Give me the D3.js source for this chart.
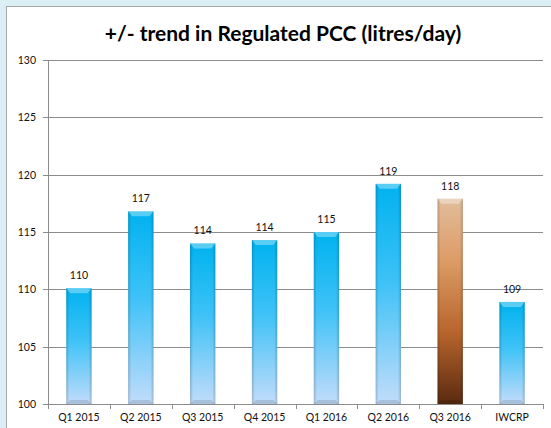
<!DOCTYPE html>
<html>
<head>
<meta charset="utf-8">
<script src="https://cdn.jsdelivr.net/npm/d3@7"></script>
<style>
  body { margin: 0; background: #dbeef4; }
  svg { display: block; }
</style>
</head>
<body>
<svg id="viz"></svg>
<script>
	// the data
	var categories = ["Q1 2015", "Q2 2015", "Q3 2015", "Q4 2015", "Q1 2016", "Q2 2016", "Q3 2016", "IWCRP"];
	var values = [110.1, 116.8, 114.0, 114.3, 115.0, 119.2, 117.9, 108.9];
	var yTicks = [100, 105, 110, 115, 120, 125, 130];
	var highlight = "Q3 2016";

	// set up the svg
	var w = 551;
	var h = 428;
	var viz = d3.select("#viz").attr("width", w).attr("height", h);

	var plotLeft = 48, plotRight = 543, plotTop = 60, plotBottom = 404;
	var font = "Lato, 'Open Sans', sans-serif";

	var x = d3.scaleBand().domain(categories).range([plotLeft, plotRight]).paddingInner(0.59).paddingOuter(0.295);
	var xTick = d3.scaleBand().domain(categories).range([plotLeft, plotRight]);
	var y = d3.scaleLinear().domain([100, 130]).range([plotBottom, plotTop]);

	// gradients
	var defs = viz.append("defs");
	function grad(id, stops) {
		var g = defs.append("linearGradient").attr("id", id)
			.attr("x1", 0).attr("y1", 0).attr("x2", 0).attr("y2", 1);
		stops.forEach(function(s) {
			g.append("stop").attr("offset", s[0]).attr("stop-color", s[1]);
		});
	}
	grad("blue", [[0, "#00b2ef"], [0.45, "#3ec2f7"], [1, "#c2dcfa"]]);
	grad("brown", [[0, "#e2bd9c"], [0.3, "#dc9c66"], [0.65, "#b8652c"], [1, "#5a2a10"]]);
	var side = defs.append("linearGradient").attr("id", "side")
		.attr("x1", 0).attr("y1", 0).attr("x2", 1).attr("y2", 0);
	side.append("stop").attr("offset", 0).attr("stop-color", "#000").attr("stop-opacity", 0.18);
	side.append("stop").attr("offset", 0.12).attr("stop-color", "#000").attr("stop-opacity", 0);
	side.append("stop").attr("offset", 0.88).attr("stop-color", "#000").attr("stop-opacity", 0);
	side.append("stop").attr("offset", 1).attr("stop-color", "#000").attr("stop-opacity", 0.18);

	// white chart panel
	viz.append("rect")
		.attr("x", 6.5).attr("y", 6.5).attr("width", w).attr("height", h)
		.attr("fill", "#fff").attr("stroke", "#a6a6a6");

	// title
	viz.append("text")
		.attr("x", 283).attr("y", 41)
		.attr("text-anchor", "middle")
		.attr("font-family", font)
		.attr("font-weight", "bold")
		.attr("font-size", 21)
		.attr("fill", "#000")
		.text("+/- trend in Regulated PCC (litres/day)");

	// gridlines
	viz.selectAll("line.grid")
		.data(yTicks)
		.enter()
		.append("line")
		.attr("class", "grid")
		.attr("x1", plotLeft - 5).attr("x2", plotRight)
		.attr("y1", function(d) { return Math.round(y(d)) + 0.5; })
		.attr("y2", function(d) { return Math.round(y(d)) + 0.5; })
		.attr("stroke", "#8c8c8c").attr("stroke-width", 1);

	// y labels
	viz.selectAll("text.ylab")
		.data(yTicks)
		.enter()
		.append("text")
		.attr("class", "ylab")
		.attr("x", plotLeft - 12)
		.attr("y", function(d) { return y(d) + 4; })
		.attr("text-anchor", "end")
		.attr("font-family", font)
		.attr("font-size", 10.5)
		.attr("fill", "#111")
		.text(function(d) { return d; });

	// y axis line
	viz.append("line")
		.attr("x1", plotLeft + 0.5).attr("x2", plotLeft + 0.5)
		.attr("y1", plotTop).attr("y2", plotBottom)
		.attr("stroke", "#8c8c8c");

	// x ticks
	var tickPos = categories.map(function(c) { return xTick(c); }).concat([plotRight]);
	viz.selectAll("line.xtick")
		.data(tickPos)
		.enter()
		.append("line")
		.attr("class", "xtick")
		.attr("x1", function(d) { return Math.round(d) + 0.5; })
		.attr("x2", function(d) { return Math.round(d) + 0.5; })
		.attr("y1", plotBottom).attr("y2", plotBottom + 5)
		.attr("stroke", "#8c8c8c");

	// x labels
	viz.selectAll("text.xlab")
		.data(categories)
		.enter()
		.append("text")
		.attr("class", "xlab")
		.attr("x", function(d) { return xTick(d) + xTick.bandwidth() / 2; })
		.attr("y", 421)
		.attr("text-anchor", "middle")
		.attr("font-family", font)
		.attr("font-size", 10.5)
		.attr("fill", "#111")
		.text(function(d) { return d; });

	// bars
	var bars = viz.selectAll("g.bar")
		.data(categories)
		.enter()
		.append("g")
		.attr("class", "bar");

	bars.append("rect")
		.attr("x", function(d) { return x(d); })
		.attr("y", function(d, i) { return y(values[i]); })
		.attr("width", x.bandwidth())
		.attr("height", function(d, i) { return plotBottom - y(values[i]); })
		.attr("fill", function(d) { return d === highlight ? "url(#brown)" : "url(#blue)"; });

	bars.append("rect")
		.attr("x", function(d) { return x(d); })
		.attr("y", function(d, i) { return y(values[i]); })
		.attr("width", x.bandwidth())
		.attr("height", function(d, i) { return plotBottom - y(values[i]); })
		.attr("fill", "url(#side)");

	// top bevel
	bars.append("path")
		.attr("d", function(d, i) {
			var x0 = x(d), x1 = x0 + x.bandwidth(), t = y(values[i]);
			return "M" + x0 + "," + t + "L" + x1 + "," + t + "L" + (x1 - 4) + "," + (t + 5) + "L" + (x0 + 4) + "," + (t + 5) + "Z";
		})
		.attr("fill", "#fff").attr("fill-opacity", 0.35);

	// bottom bevel
	bars.append("path")
		.attr("d", function(d) {
			var x0 = x(d), x1 = x0 + x.bandwidth(), b = plotBottom;
			return "M" + x0 + "," + b + "L" + x1 + "," + b + "L" + (x1 - 4) + "," + (b - 4) + "L" + (x0 + 4) + "," + (b - 4) + "Z";
		})
		.attr("fill", "#000").attr("fill-opacity", 0.12);

	// value labels
	viz.selectAll("text.val")
		.data(categories)
		.enter()
		.append("text")
		.attr("class", "val")
		.attr("x", function(d) { return x(d) + x.bandwidth() / 2; })
		.attr("y", function(d, i) { return y(values[i]) - 9; })
		.attr("text-anchor", "middle")
		.attr("font-family", font)
		.attr("font-size", 10.5)
		.attr("fill", "#111")
		.text(function(d, i) { return d3.format(".0f")(values[i]); });
</script>
</body>
</html>
